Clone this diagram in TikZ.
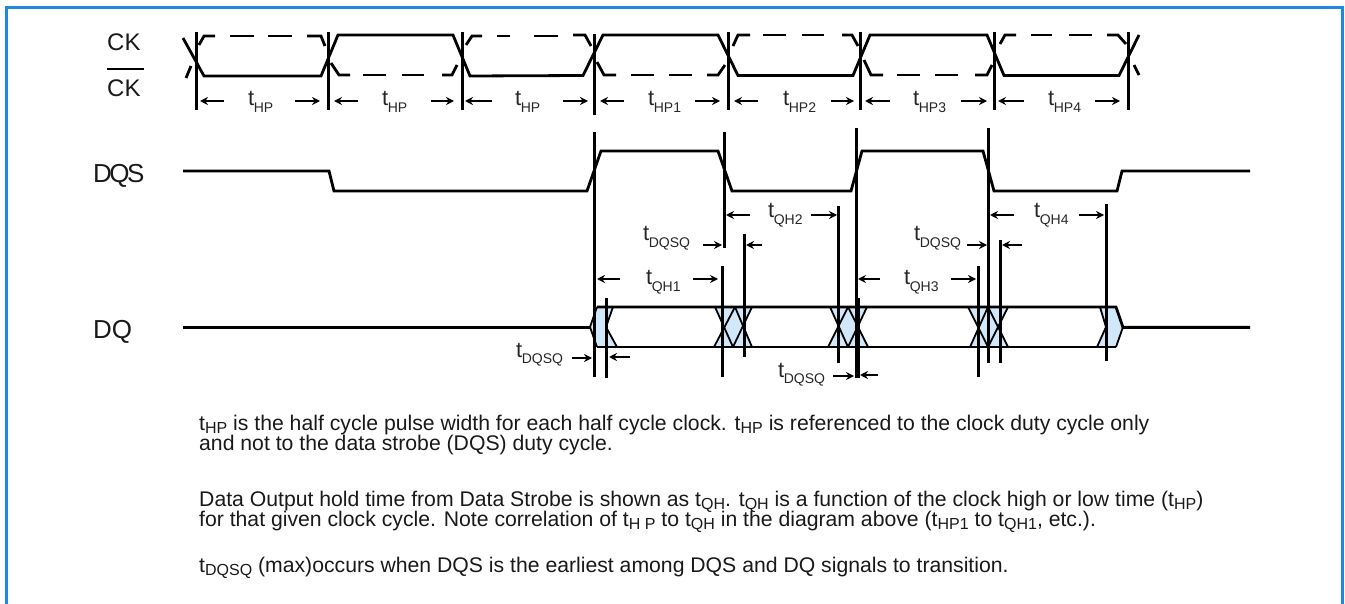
\documentclass[tikz,border=0pt]{standalone}
\usepackage{fontspec}
\setmainfont{Liberation Sans}
\usetikzlibrary{arrows.meta}
\definecolor{frameblue}{RGB}{30,136,229}
\definecolor{eyeblue}{RGB}{208,232,250}
\tikzset{
  wave/.style={line width=2.8pt, line join=miter},
  tickline/.style={line width=3pt},
  dimarrow/.style={line width=2.8pt, -{Stealth[length=8pt,width=8pt]}},
  crossline/.style={line width=1.8pt},
  siglabel/.style={anchor=base west, inner sep=0pt, text=black!90},
  timelabel/.style={anchor=base west, inner sep=0pt, text=black!85, font=\fontsize{22}{22}\selectfont},
  notetext/.style={anchor=base west, inner sep=0pt, text=black!90, font=\fontsize{21.2}{21.2}\selectfont}
}
\newcommand{\tlab}[1]{t\kern-0.5pt\raisebox{-6.5pt}{\fontsize{14}{14}\selectfont #1}}
\newcommand{\nsub}[1]{\raisebox{-3.2pt}{\fontsize{16}{16}\selectfont #1}}
\begin{document}
\begin{tikzpicture}[x=1pt,y=-1pt]
    \useasboundingbox (0,0) rectangle (1345,604);
    % Frame
    \draw[frameblue, line width=3pt] (6.5,604) -- (6.5,7.5) -- (1342.5,7.5) -- (1342.5,604);

    % Signal names
    \node[siglabel, font=\fontsize{24}{24}\selectfont] (ck) at (107,51) {CK};
    \node[siglabel, font=\fontsize{24}{24}\selectfont] (ckbar) at (107,97) {CK};
    \draw[line width=2.8pt] (107,69) -- (144,69);
    \node[siglabel, font=\fontsize{26}{26}\selectfont\addfontfeature{LetterSpace=-10}] (dqs) at (93,183) {DQS};
    \node[siglabel, font=\fontsize{26}{26}\selectfont] (dq) at (93,338) {DQ};

    % Clock, solid
    \draw[wave] (183,38) -- (204,76) -- (321,76) -- (338,35) -- (453,35) -- (470,76) -- (583,75.5)
      -- (603,35) -- (718,35) -- (738,75.5) -- (853,75.5) -- (870,35) -- (987,35) -- (1004,75.5)
      -- (1119,75.5) -- (1139,35);

    % Clock, broken
    \draw[wave] (186,78) -- (191,66);
    \draw[wave] (199,45) -- (204,36) -- (215,36);
    \draw[wave] (230,36) -- (254,36);
    \draw[wave] (268,36) -- (292,36);
    \draw[wave] (307,36) -- (321,36) -- (325,46);
    \draw[wave] (331,63) -- (339,75) -- (350,75);
    \draw[wave] (363,75) -- (386,75);
    \draw[wave] (402,75) -- (424,75);
    \draw[wave] (442,75) -- (452,75) -- (457,65);
    \draw[wave] (466,45) -- (472,36) -- (482,36);
    \draw[wave] (497,36) -- (510,36);
    \draw[wave] (534,36) -- (558,36);
    \draw[wave] (573,35) -- (585,35) -- (591,46);
    \draw[wave] (597,62) -- (604,75) -- (616,75);
    \draw[wave] (631,75) -- (654,75);
    \draw[wave] (669,75) -- (692,75);
    \draw[wave] (707,75) -- (718,75) -- (725,65);
    \draw[wave] (733,46) -- (738,35) -- (750,35);
    \draw[wave] (763,35) -- (786,35);
    \draw[wave] (802,35) -- (824,35);
    \draw[wave] (842,35) -- (852,35) -- (858,46);
    \draw[wave] (864,60) -- (871,75) -- (883,75);
    \draw[wave] (897,75) -- (920,75);
    \draw[wave] (935,75) -- (958,75);
    \draw[wave] (975,75) -- (987,75) -- (992,65);
    \draw[wave] (1000,44) -- (1005,35) -- (1016,35);
    \draw[wave] (1031,35) -- (1052,35);
    \draw[wave] (1069,35) -- (1092,35);
    \draw[wave] (1107,35) -- (1118,35) -- (1126,44);
    \draw[wave] (1134,65) -- (1139,75);

    % Half cycle marks
    \draw[tickline] (196.7,32) -- (196.7,110);
    \draw[tickline] (328,32) -- (328,110);
    \draw[tickline] (462,32) -- (462,110);
    \draw[tickline] (594,34) -- (594,115);
    \draw[tickline] (728,32) -- (728,110);
    \draw[tickline] (860,32) -- (860,110);
    \draw[tickline] (994,32) -- (994,110);
    \draw[tickline] (1128,32) -- (1128,110);

    % Half cycle arrows
    \draw[dimarrow] (224,101) -- (200,101);
    \draw[dimarrow] (295,101) -- (320,101);
    \draw[dimarrow] (358,101) -- (334,101);
    \draw[dimarrow] (431,101) -- (454,101);
    \draw[dimarrow] (492,101) -- (465,101);
    \draw[dimarrow] (563,101) -- (588,101);
    \draw[dimarrow] (624,101) -- (600,101);
    \draw[dimarrow] (695,101) -- (720,101);
    \draw[dimarrow] (758,101) -- (734,101);
    \draw[dimarrow] (831,101) -- (854,101);
    \draw[dimarrow] (890,101) -- (865,101);
    \draw[dimarrow] (961,101) -- (987,101);
    \draw[dimarrow] (1024,101) -- (998,101);
    \draw[dimarrow] (1095,101) -- (1120,101);

    \node[timelabel] (hp0) at (248,106) {\tlab{HP}};
    \node[timelabel] (hp00) at (382,106) {\tlab{HP}};
    \node[timelabel] (hp000) at (515,106) {\tlab{HP}};
    \node[timelabel] (hp1) at (648,106) {\tlab{HP1}};
    \node[timelabel] (hp2) at (783,106) {\tlab{HP2}};
    \node[timelabel] (hp3) at (913,106) {\tlab{HP3}};
    \node[timelabel] (hp4) at (1048,106) {\tlab{HP4}};

    % DQS
    \draw[wave] (183,171) -- (329,171) -- (334,191) -- (587,191) -- (601,151) -- (718,151) -- (732,191)
      -- (851,191) -- (862,151) -- (983,151) -- (994,191) -- (1117,191) -- (1122,171) -- (1250,171);

    % DQ, valid windows
    \fill[eyeblue] (590,327) -- (597,307) -- (613,307) -- (606,327) -- (617,347) -- (597,347) -- cycle;
    \fill[eyeblue] (715,307) -- (752,307) -- (744,327) -- (752,347) -- (714,347) -- (723,327) -- cycle;
    \fill[eyeblue] (830,307) -- (867,307) -- (858,327) -- (868,347) -- (828,347) -- (838,327) -- cycle;
    \fill[eyeblue] (968,307) -- (1008,307) -- (1000,327) -- (1008,347) -- (970,347) -- (978,327) -- cycle;
    \fill[eyeblue] (1100,307) -- (1116,307) -- (1123,327) -- (1116,347) -- (1097,347) -- (1106,327) -- cycle;

    \draw[crossline] (597,307) -- (590,327) -- (597,347);
    \draw[crossline] (613,307) -- (606,327) -- (617,347);
    \draw[crossline] (715,307) -- (733,347);
    \draw[crossline] (735,307) -- (714,347);
    \draw[crossline] (735,307) -- (752,347);
    \draw[crossline] (752,307) -- (733,347);
    \draw[crossline] (830,307) -- (848,347);
    \draw[crossline] (848,307) -- (828,347);
    \draw[crossline] (848,307) -- (868,347);
    \draw[crossline] (867,307) -- (848,347);
    \draw[crossline] (968,307) -- (988,347);
    \draw[crossline] (988,307) -- (970,347);
    \draw[crossline] (988,307) -- (1008,347);
    \draw[crossline] (1008,307) -- (988,347);
    \draw[crossline] (1100,307) -- (1106,327) -- (1097,347);
    \draw[crossline] (1116,347) -- (1123,327);

    \draw[wave] (183,327.4) -- (590,327.4);
    \draw[wave] (597,307) -- (1116,307) -- (1123,327.4) -- (1250,327.4);
    \draw[line width=1.8pt] (597,347) -- (1116,347);

    % Strobe and data edges
    \draw[tickline] (594,132) -- (594,377);
    \draw[tickline] (724,132) -- (724,248);
    \draw[tickline] (856,128) -- (856,378);
    \draw[tickline] (988,128) -- (988,363);
    \draw[tickline] (606,298) -- (606,378);
    \draw[tickline] (722,266) -- (722,377);
    \draw[tickline] (744,234) -- (744,357);
    \draw[tickline] (838,206) -- (838,363);
    \draw[tickline] (858,298) -- (858,378);
    \draw[tickline] (978,266) -- (978,377);
    \draw[tickline] (1000,240) -- (1000,363);
    \draw[tickline] (1106,204) -- (1106,361);

    % Hold time arrows
    \draw[dimarrow] (750,215) -- (726,215);
    \draw[dimarrow] (811,215) -- (837,215);
    \draw[dimarrow] (1014,215) -- (990,215);
    \draw[dimarrow] (1079,215) -- (1104,215);
    \draw[dimarrow] (620,279) -- (597,279);
    \draw[dimarrow] (693,279) -- (718,279);
    \draw[dimarrow] (880,279) -- (858,279);
    \draw[dimarrow] (951,279) -- (976,279);

    % Skew arrows
    \draw[dimarrow] (703,245) -- (722,245);
    \draw[dimarrow] (762,245) -- (746,245);
    \draw[dimarrow] (967,245) -- (987,245);
    \draw[dimarrow] (1022,245) -- (1002,245);
    \draw[dimarrow] (572,358) -- (592,358);
    \draw[dimarrow] (630,357) -- (609,357);
    \draw[dimarrow] (833,376) -- (854,376);
    \draw[dimarrow] (878,375) -- (860,375);

    \node[timelabel] (qh1) at (646,285) {\tlab{QH1}};
    \node[timelabel] (qh2) at (768,218) {\tlab{QH2}};
    \node[timelabel] (qh3) at (904,285) {\tlab{QH3}};
    \node[timelabel] (qh4) at (1034,218) {\tlab{QH4}};
    \node[timelabel] (dqsq1) at (643,241) {\tlab{DQSQ}};
    \node[timelabel] (dqsq2) at (914,241) {\tlab{DQSQ}};
    \node[timelabel] (dqsq3) at (516,357) {\tlab{DQSQ}};
    \node[timelabel] (dqsq4) at (778,377) {\tlab{DQSQ}};

    % Notes
    \node[notetext] (note1) at (199,430) {t\nsub{HP} is the half cycle pulse width for each half cycle clock. t\nsub{HP} is referenced to the clock duty cycle only};
    \node[notetext] (note2) at (199,450) {and not to the data strobe (DQS) duty cycle.};
    \node[notetext] (note3) at (199,506) {Data Output hold time from Data Strobe is shown as t\nsub{QH}. t\nsub{QH} is a function of the clock high or low time (t\nsub{HP})};
    \node[notetext] (note4) at (199,526) {for that given clock cycle. Note correlation of t\nsub{H P} to t\nsub{QH} in the diagram above (t\nsub{HP1} to t\nsub{QH1}, etc.).};
    \node[notetext] (note5) at (199,572) {t\nsub{DQSQ} (max)occurs when DQS is the earliest among DQS and DQ signals to transition.};
\end{tikzpicture}
\end{document}
